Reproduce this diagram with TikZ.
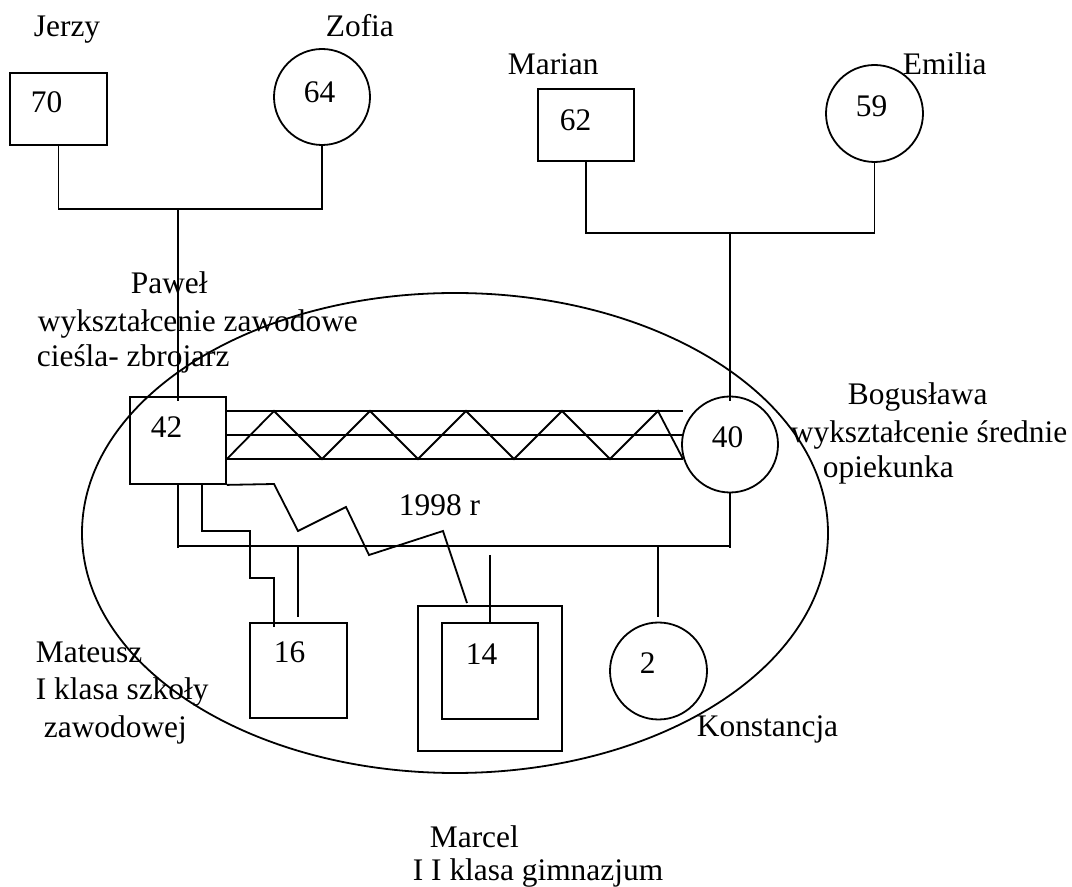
\documentclass[tikz,border=0pt]{standalone}
\usepackage{fontspec}
\setmainfont{Liberation Serif}
\usetikzlibrary{shapes.geometric}
\begin{document}
\begin{tikzpicture}[x=0.5pt,y=-0.5pt,line width=0.9pt,
  lbl/.style={anchor=base west,inner sep=0pt,font=\fontsize{15.7pt}{18pt}\selectfont},
  male/.style={draw,rectangle,inner sep=0pt},
  female/.style={draw,circle,inner sep=0pt}]
\useasboundingbox (0,0) rectangle (1072,887);
% persons
\node[male,minimum width=48.5pt,minimum height=36pt] (b70) at (58.5,109) {};
\node[female,minimum size=48pt] (c64) at (322,97) {};
\node[male,minimum width=48pt,minimum height=36pt] (b62) at (586,125) {};
\node[female,minimum size=48.5pt] (c59) at (874.5,113.5) {};
\node[male,minimum width=48pt,minimum height=43.5pt] (b42) at (178,440.5) {};
\node[female,minimum size=48pt] (c40) at (730,444.5) {};
\node[male,minimum width=48.5pt,minimum height=47.5pt] (b16) at (298.5,670.5) {};
\node[male,minimum width=72pt,minimum height=72.5pt] (b14o) at (490,678.5) {};
\node[male,minimum width=48pt,minimum height=48pt] (b14) at (490,671) {};
\node[female,minimum size=48.5pt] (c2) at (658.5,671) {};
\node[draw,ellipse,inner sep=0pt,minimum width=373pt,minimum height=240pt] (fam) at (455,533) {};
% coordinates
\coordinate (pjR) at (322,209);
\coordinate (pj) at (178,209);
\coordinate (mjR) at (874.5,233);
\coordinate (mj) at (730,233);
% grandparents Jerzy/Zofia
\draw (b70.south) |- (pjR) -- (c64.south);
\draw (pj) -- ([yshift=-2.5pt]b42.north);
% grandparents Marian/Emilia
\draw (b62.south) |- (mjR) -- (c59.south);
\draw (mj) -- ([yshift=-2.5pt]c40.north);
% marriage lines
\coordinate (m1) at (683,411);
\coordinate (m2) at (683,435);
\coordinate (m3) at (683,459);
\draw (b42.east |- m1) -- (m1);
\draw (b42.east |- m2) -- (m2);
\draw (b42.east |- m3) -- (m3);
\draw (b42.east |- m3) -- (274,411) -- (322,459) -- (370,411) -- (418,459) -- (466,411)
  -- (514,459) -- (562,411) -- (610,459) -- (658,411) -- (m3);
% sibship
\coordinate (sL) at (178,546);
\coordinate (sR) at (730,546);
\draw (b42.south) -- (178,548);
\draw (c40.south) -- (730,548);
\draw (sL) -- (sR);
\draw (298,546) -- (298,617);
\draw (490,555) -- (b14.north);
\draw (658,546) -- (658,617);
% stepped line to 16
\draw (202,484) -- (202,531) -- (250,531) -- (250,578) -- (274,578) -- (274,627);
% zigzag line to 14
\draw (b42.south east) -- (274,484) -- (298,531) -- (346,507) -- (369,555) -- (443,531) -- (467,603);
% labels
\node[lbl] (tJ) at (33,37) {Jerzy};
\node[lbl] (tZ) at (325,37) {Zofia};
\node[lbl] (tM) at (507,75) {Marian};
\node[lbl] (tE) at (902,75) {Emilia};
\node[lbl] (n70) at (30,113) {70};
\node[lbl] (n64) at (303,103) {64};
\node[lbl] (n62) at (559,131) {62};
\node[lbl] (n59) at (855,117) {59};
\node[lbl] (tP1) at (130,294) {Paweł};
\node[lbl] (tP2) at (37,332) {wykształcenie zawodowe};
\node[lbl] (tP3) at (36,367) {cieśla- zbrojarz};
\node[lbl] (n42) at (150,438) {42};
\node[lbl] (n40) at (711,448) {40};
\node[lbl] (tB1) at (847,405) {Bogusława};
\node[lbl] (tB2) at (790,443) {wykształcenie średnie};
\node[lbl] (tB3) at (822,478) {opiekunka};
\node[lbl] (t98) at (398,516) {1998 r};
\node[lbl] (n16) at (273,663) {16};
\node[lbl] (n14) at (465,665) {14};
\node[lbl] (n2) at (639,674) {2};
\node[lbl] (tMa1) at (35,662) {Mateusz};
\node[lbl] (tMa2) at (35,699) {I klasa szkoły};
\node[lbl] (tMa3) at (43,737) {zawodowej};
\node[lbl] (tK) at (696,736) {Konstancja};
\node[lbl] (tMc1) at (429,847) {Marcel};
\node[lbl] (tMc2) at (412,880) {I I klasa gimnazjum};
\end{tikzpicture}
\end{document}
